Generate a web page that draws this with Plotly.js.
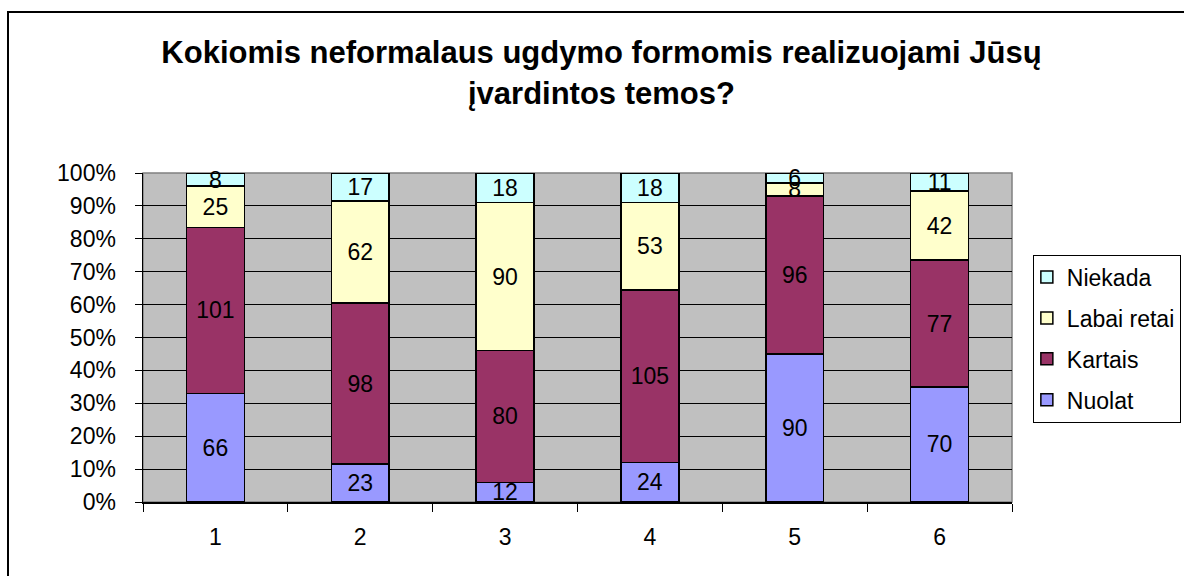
<!DOCTYPE html>
<html>
<head>
<meta charset="utf-8">
<script src="https://cdn.plot.ly/plotly-3.0.1.min.js"></script>
<style>html,body{margin:0;padding:0;background:#fff;}#chart{width:1184px;height:576px;}</style>
</head>
<body>
<div id="chart"></div>
<script>
const categories = ['1', '2', '3', '4', '5', '6'];
const nuolat = [66, 23, 12, 24, 90, 70];
const kartais = [101, 98, 80, 105, 96, 77];
const labaiRetai = [25, 62, 90, 53, 8, 42];
const niekada = [8, 17, 18, 18, 6, 11];
const seriesNames = ['Nuolat', 'Kartais', 'Labai retai', 'Niekada'];
const seriesColors = ['#9999FF', '#993366', '#FFFFCC', '#CCFFFF'];
const tickVals = [0, 10, 20, 30, 40, 50, 60, 70, 80, 90, 100];
const tickText = tickVals.map(v => v + '%');

const FONT = 'Liberation Sans, Arial, sans-serif';
const seriesData = [nuolat, kartais, labaiRetai, niekada];

const traces = seriesData.map((vals, i) => ({
  type: 'bar',
  name: seriesNames[i],
  legendgroup: seriesNames[i],
  legendrank: seriesData.length - i,
  x: categories,
  y: vals,
  text: vals.map(String),
  texttemplate: '%{text}',
  textposition: 'inside',
  insidetextanchor: 'middle',
  constraintext: 'none',
  cliponaxis: false,
  textangle: 0,
  insidetextfont: {family: FONT, size: 23, color: '#000'},
  marker: {color: seriesColors[i], line: {color: '#000', width: 1.5}},
  hoverinfo: 'skip'
}));

const layout = {
  width: 1184,
  height: 576,
  paper_bgcolor: '#fff',
  plot_bgcolor: '#C0C0C0',
  barmode: 'stack',
  barnorm: 'percent',
  bargap: 0.6,
  margin: {l: 143, r: 172, t: 173, b: 74, autoexpand: false},
  font: {family: FONT, size: 23, color: '#000'},
  title: {
    text: 'Kokiomis neformalaus ugdymo formomis realizuojami Jūsų<br>įvardintos temos?',
    font: {family: FONT, size: 31, color: '#000', weight: 'bold'},
    xref: 'container', x: 0.508, xanchor: 'center',
    yref: 'container', y: 0.89, yanchor: 'top'
  },
  xaxis: {
    type: 'category',
    tickson: 'boundaries',
    ticks: 'outside', ticklen: 8, tickcolor: '#000', tickwidth: 1,
    showline: true, linecolor: '#000', linewidth: 1.5,
    showgrid: false, zeroline: false,
    ticklabelstandoff: 14,
    tickfont: {family: FONT, size: 23, color: '#000'}
  },
  yaxis: {
    range: [0, 100],
    tickmode: 'array',
    tickvals: tickVals,
    ticktext: tickText,
    ticks: 'outside', ticklen: 7, tickcolor: '#000', tickwidth: 1,
    showline: true, linecolor: '#000', linewidth: 1.5,
    showgrid: true, gridcolor: '#000', gridwidth: 1,
    zeroline: false,
    ticklabelstandoff: 14,
    tickfont: {family: FONT, size: 23, color: '#000'}
  },
  legend: {
    x: 1.024, xanchor: 'left',
    y: 0.752, yanchor: 'top',
    bgcolor: '#fff',
    bordercolor: '#000', borderwidth: 1,
    font: {family: FONT, size: 23, color: '#000'},
    traceorder: 'grouped',
    tracegroupgap: 8,
    indentation: -7
  },
  shapes: [
    {type: 'rect', xref: 'paper', yref: 'paper', x0: 0, x1: 1, y0: 0, y1: 1,
     line: {color: '#808080', width: 1.5}, fillcolor: 'rgba(0,0,0,0)', layer: 'below'},
    {type: 'rect', xref: 'paper', yref: 'paper',
     x0: (8 - 143) / 869, x1: (1200 - 143) / 869, y0: (502 - 590) / 329, y1: (502 - 12) / 329,
     line: {color: '#000', width: 2}, fillcolor: 'rgba(0,0,0,0)', layer: 'above'}
  ],
  showlegend: true
};

Plotly.newPlot('chart', traces, layout, {displayModeBar: false, staticPlot: true});
</script>
</body>
</html>
